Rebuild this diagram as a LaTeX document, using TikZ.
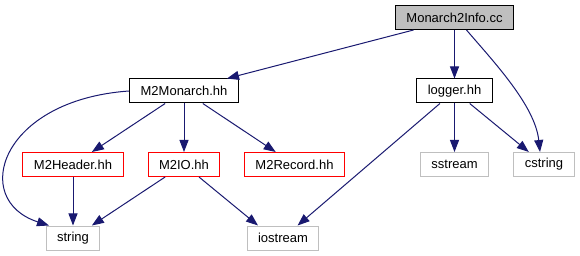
\documentclass[tikz,border=0pt]{standalone}
\usepackage{fontspec}
\setsansfont{Liberation Sans}
\usetikzlibrary{
  positioning,
  arrows.meta
}
\definecolor{edgeblue}{HTML}{191970}
\definecolor{boxgray}{HTML}{BFBFBF}

\begin{document}
\begin{tikzpicture}[
    x=1pt, y=-1pt, >={Triangle[length=12pt,width=9pt]},
    font=\sffamily\fontsize{13}{15}\selectfont,
    file/.style={
      rectangle,
      draw=black,
      line width=1pt,
      inner xsep=11pt,
      inner ysep=0pt,
      minimum height=24pt
    },
    partial/.style={file, draw=red},
    system/.style={file, draw=boxgray},
    dep/.style={->, draw=edgeblue, line width=1pt}
  ]
  \useasboundingbox (0,0) rectangle (580,256);

  \node[file, fill=boxgray] (info) at (454.5,17.5) {Monarch2Info.cc};

  \node[file] (monarch) at (184,91) {M2Monarch.hh};
  \node[file] (logger) at (454.5,91) {logger.hh};

  \node[partial] (header) at (73,164.5) {M2Header.hh};
  \node[partial] (io) at (184,164.5) {M2IO.hh};
  \node[partial] (record) at (294.5,164.5) {M2Record.hh};
  \node[system] (sstream) at (454.5,164.5) {sstream};
  \node[system] (cstring) at (544,164.5) {cstring};

  \node[system] (string) at (73,238) {string};
  \node[system] (iostream) at (283,238) {iostream};

  \draw[dep] ([xshift=-41pt]info.south) -- ([xshift=43pt]monarch.north);
  \draw[dep] (info) -- (logger);
  \draw[dep] ([xshift=12pt]info.south) .. controls (492,60) and (535,105) .. ([xshift=-4pt]cstring.north);

  \draw[dep] (monarch) -- (header);
  \draw[dep] (monarch) -- (io);
  \draw[dep] (monarch) -- (record);
  \draw[dep] (monarch.west) .. controls (0,100) and (-30,200) .. ([xshift=-24pt]string.north);

  \draw[dep] (logger) -- (iostream);
  \draw[dep] (logger) -- (sstream);
  \draw[dep] (logger) -- (cstring);

  \draw[dep] (header) -- (string);
  \draw[dep] (io) -- (string);
  \draw[dep] ([xshift=15pt]io.south) -- ([xshift=-25pt]iostream.north);
\end{tikzpicture}
\end{document}
